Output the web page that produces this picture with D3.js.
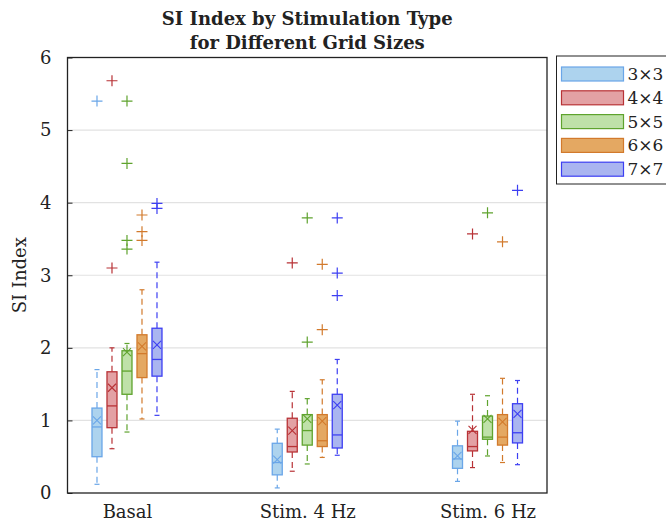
<!DOCTYPE html>
<html>
<head>
<meta charset="utf-8">
<script src="https://cdn.jsdelivr.net/npm/d3@7"></script>
<style>
  html, body { margin: 0; padding: 0; background: #fff; }
  svg { display: block; }
  text { font-family: "DejaVu Serif", "Liberation Serif", serif; fill: #222; }
</style>
</head>
<body>
<svg id="chart" width="666" height="526"></svg>
<script>
// Stimulation conditions and grid sizes
const categories = ["Basal", "Stim. 4 Hz", "Stim. 6 Hz"];
const gridSizes = ["3×3", "4×4", "5×5", "6×6", "7×7"];
const yTicks = [0, 1, 2, 3, 4, 5, 6];

// Box-plot statistics, one row per grid size, one value per condition
const q1 = [
  [0.50, 0.25, 0.34],
  [0.90, 0.565, 0.58],
  [1.36, 0.66, 0.74],
  [1.59, 0.64, 0.66],
  [1.61, 0.62, 0.69]
];
const medians = [
  [0.91, 0.42, 0.47],
  [1.20, 0.64, 0.64],
  [1.68, 0.86, 0.77],
  [1.92, 0.72, 0.77],
  [1.84, 0.80, 0.83]
];
const q3 = [
  [1.17, 0.685, 0.65],
  [1.67, 1.03, 0.85],
  [1.96, 1.08, 1.06],
  [2.18, 1.08, 1.08],
  [2.27, 1.36, 1.23]
];
const means = [
  [1.00, 0.46, 0.51],
  [1.45, 0.86, 0.87],
  [1.94, 1.02, 1.02],
  [2.02, 0.99, 0.98],
  [2.04, 1.21, 1.09]
];
const whiskerLow = [
  [0.12, 0.07, 0.16],
  [0.61, 0.30, 0.35],
  [0.84, 0.40, 0.51],
  [1.02, 0.49, 0.42],
  [1.07, 0.52, 0.39]
];
const whiskerHigh = [
  [1.70, 0.88, 0.99],
  [2.00, 1.40, 1.36],
  [2.06, 1.30, 1.34],
  [2.80, 1.56, 1.58],
  [3.18, 1.84, 1.55]
];
const outliers = [
  [[5.40], [], []],
  [[5.68, 3.10], [3.17], [3.57]],
  [[5.40, 4.54, 3.48, 3.36], [3.79, 2.08], [3.86]],
  [[3.83, 3.60, 3.48], [3.15, 2.25], [3.46]],
  [[3.99, 3.92], [3.79, 3.03, 2.72], [4.17]]
];

// Per-grid-size colours
const fills   = ["#add3ee", "#e3a1a4", "#bfe1a9", "#e4a862", "#aab5f0"];
const strokes = ["#6aa6e8", "#b83236", "#5fa32e", "#d27a2c", "#3d3ff2"];

const svg = d3.select("#chart");
const margin = { left: 67.5, right: 119, top: 57.5, bottom: 33 };
const W = 666, H = 526;
const plotW = W - margin.left - margin.right;
const plotH = H - margin.top - margin.bottom;

const x = d3.scaleLinear().domain([0.67, 3.33]).range([margin.left, margin.left + plotW]);
const xSub = d3.scalePoint().domain(gridSizes).range([-30, 30]);
const y = d3.scaleLinear().domain([0, 6]).range([margin.top + plotH, margin.top]);

// Horizontal grid lines
svg.append("g")
  .selectAll("line")
  .data(yTicks.slice(1, -1))
  .join("line")
  .attr("x1", margin.left).attr("x2", margin.left + plotW)
  .attr("y1", d => y(d)).attr("y2", d => y(d))
  .attr("stroke", "#e2e2e2").attr("stroke-width", 1.2);

// Y axis with inward ticks
const yAxis = d3.axisLeft(y).tickValues(yTicks).tickSize(-5).tickPadding(16).tickFormat(d3.format("d"));
const yG = svg.append("g").attr("transform", `translate(${margin.left},0)`).call(yAxis);
yG.select(".domain").remove();
yG.selectAll("line").attr("stroke", "#222");
yG.selectAll("text").attr("font-size", 18).attr("fill", "#222")
  .style("font-family", '"DejaVu Serif", serif');

// X axis labels
const xAxis = d3.axisBottom(x).tickValues([1, 2, 3]).tickSize(0).tickPadding(12)
  .tickFormat((d, i) => categories[i]);
const xG = svg.append("g").attr("transform", `translate(0,${margin.top + plotH})`).call(xAxis);
xG.select(".domain").remove();
xG.selectAll("text").attr("font-size", 18).attr("fill", "#222")
  .style("font-family", '"DejaVu Serif", serif');

// Build flat box records
const boxes = [];
gridSizes.forEach((g, gi) => {
  categories.forEach((c, ci) => {
    boxes.push({
      gi, ci,
      cx: x(ci + 1) + xSub(g),
      q1: q1[gi][ci], med: medians[gi][ci], q3: q3[gi][ci],
      mean: means[gi][ci], lo: whiskerLow[gi][ci], hi: whiskerHigh[gi][ci],
      out: outliers[gi][ci]
    });
  });
});

const boxW = 10, capW = 5;
const bg = svg.append("g").selectAll("g").data(boxes).join("g");

// Dashed whiskers
bg.append("line")
  .attr("x1", d => d.cx).attr("x2", d => d.cx)
  .attr("y1", d => y(d.q3)).attr("y2", d => y(d.hi))
  .attr("stroke", d => strokes[d.gi]).attr("stroke-width", 1.2)
  .attr("stroke-dasharray", "6,4");
bg.append("line")
  .attr("x1", d => d.cx).attr("x2", d => d.cx)
  .attr("y1", d => y(d.q1)).attr("y2", d => y(d.lo))
  .attr("stroke", d => strokes[d.gi]).attr("stroke-width", 1.2)
  .attr("stroke-dasharray", "6,4");
// Whisker caps
["hi", "lo"].forEach(k => {
  bg.append("line")
    .attr("x1", d => d.cx - capW / 2).attr("x2", d => d.cx + capW / 2)
    .attr("y1", d => y(d[k])).attr("y2", d => y(d[k]))
    .attr("stroke", d => strokes[d.gi]).attr("stroke-width", 1.2);
});

// Boxes
bg.append("rect")
  .attr("x", d => d.cx - boxW / 2).attr("width", boxW)
  .attr("y", d => y(d.q3)).attr("height", d => y(d.q1) - y(d.q3))
  .attr("fill", d => fills[d.gi]).attr("stroke", d => strokes[d.gi]).attr("stroke-width", 1.3);

// Medians
bg.append("line")
  .attr("x1", d => d.cx - boxW / 2).attr("x2", d => d.cx + boxW / 2)
  .attr("y1", d => y(d.med)).attr("y2", d => y(d.med))
  .attr("stroke", d => strokes[d.gi]).attr("stroke-width", 1.3);

// Mean markers (x)
const mx = 4;
bg.append("path")
  .attr("d", d => {
    const cx = d.cx, cy = y(d.mean);
    return `M${cx - mx},${cy - mx}L${cx + mx},${cy + mx}M${cx - mx},${cy + mx}L${cx + mx},${cy - mx}`;
  })
  .attr("stroke", d => strokes[d.gi]).attr("stroke-width", 1.1).attr("fill", "none");

// Outlier markers (+)
const ps = 5.5;
bg.each(function (d) {
  d3.select(this).selectAll("path.out")
    .data(d.out)
    .join("path")
    .attr("class", "out")
    .attr("d", v => {
      const cx = d.cx, cy = y(v);
      return `M${cx - ps},${cy}L${cx + ps},${cy}M${cx},${cy - ps}L${cx},${cy + ps}`;
    })
    .attr("stroke", strokes[d.gi]).attr("stroke-width", 1.2).attr("fill", "none");
});

// Plot frame
svg.append("rect")
  .attr("x", margin.left).attr("y", margin.top)
  .attr("width", plotW).attr("height", plotH)
  .attr("fill", "none").attr("stroke", "#222").attr("stroke-width", 1.3);

// Title
const title = svg.append("text")
  .attr("x", x(2)).attr("y", 25)
  .attr("text-anchor", "middle").attr("font-weight", "bold").attr("font-size", 18);
title.append("tspan").attr("x", x(2)).attr("dy", 0).text("SI Index by Stimulation Type");
title.append("tspan").attr("x", x(2)).attr("dy", 24).text("for Different Grid Sizes");

// Y label
svg.append("text")
  .attr("transform", `translate(26,${y(3)}) rotate(-90)`)
  .attr("text-anchor", "middle").attr("font-size", 18)
  .text("SI Index");

// Legend
const lg = svg.append("g").attr("transform", "translate(556.5,56)");
lg.append("rect").attr("x", 0).attr("y", 0).attr("width", 120).attr("height", 128)
  .attr("fill", "#fff").attr("stroke", "#222").attr("stroke-width", 1);
const items = lg.selectAll("g.item").data(gridSizes).join("g").attr("class", "item")
  .attr("transform", (d, i) => `translate(5,${11 + i * 23.8})`);
items.append("rect").attr("width", 62).attr("height", 14)
  .attr("fill", (d, i) => fills[i]).attr("stroke", (d, i) => strokes[i]).attr("stroke-width", 1.2);
items.append("text").attr("x", 66).attr("y", 13).attr("font-size", 17).text(d => d);
</script>
</body>
</html>
